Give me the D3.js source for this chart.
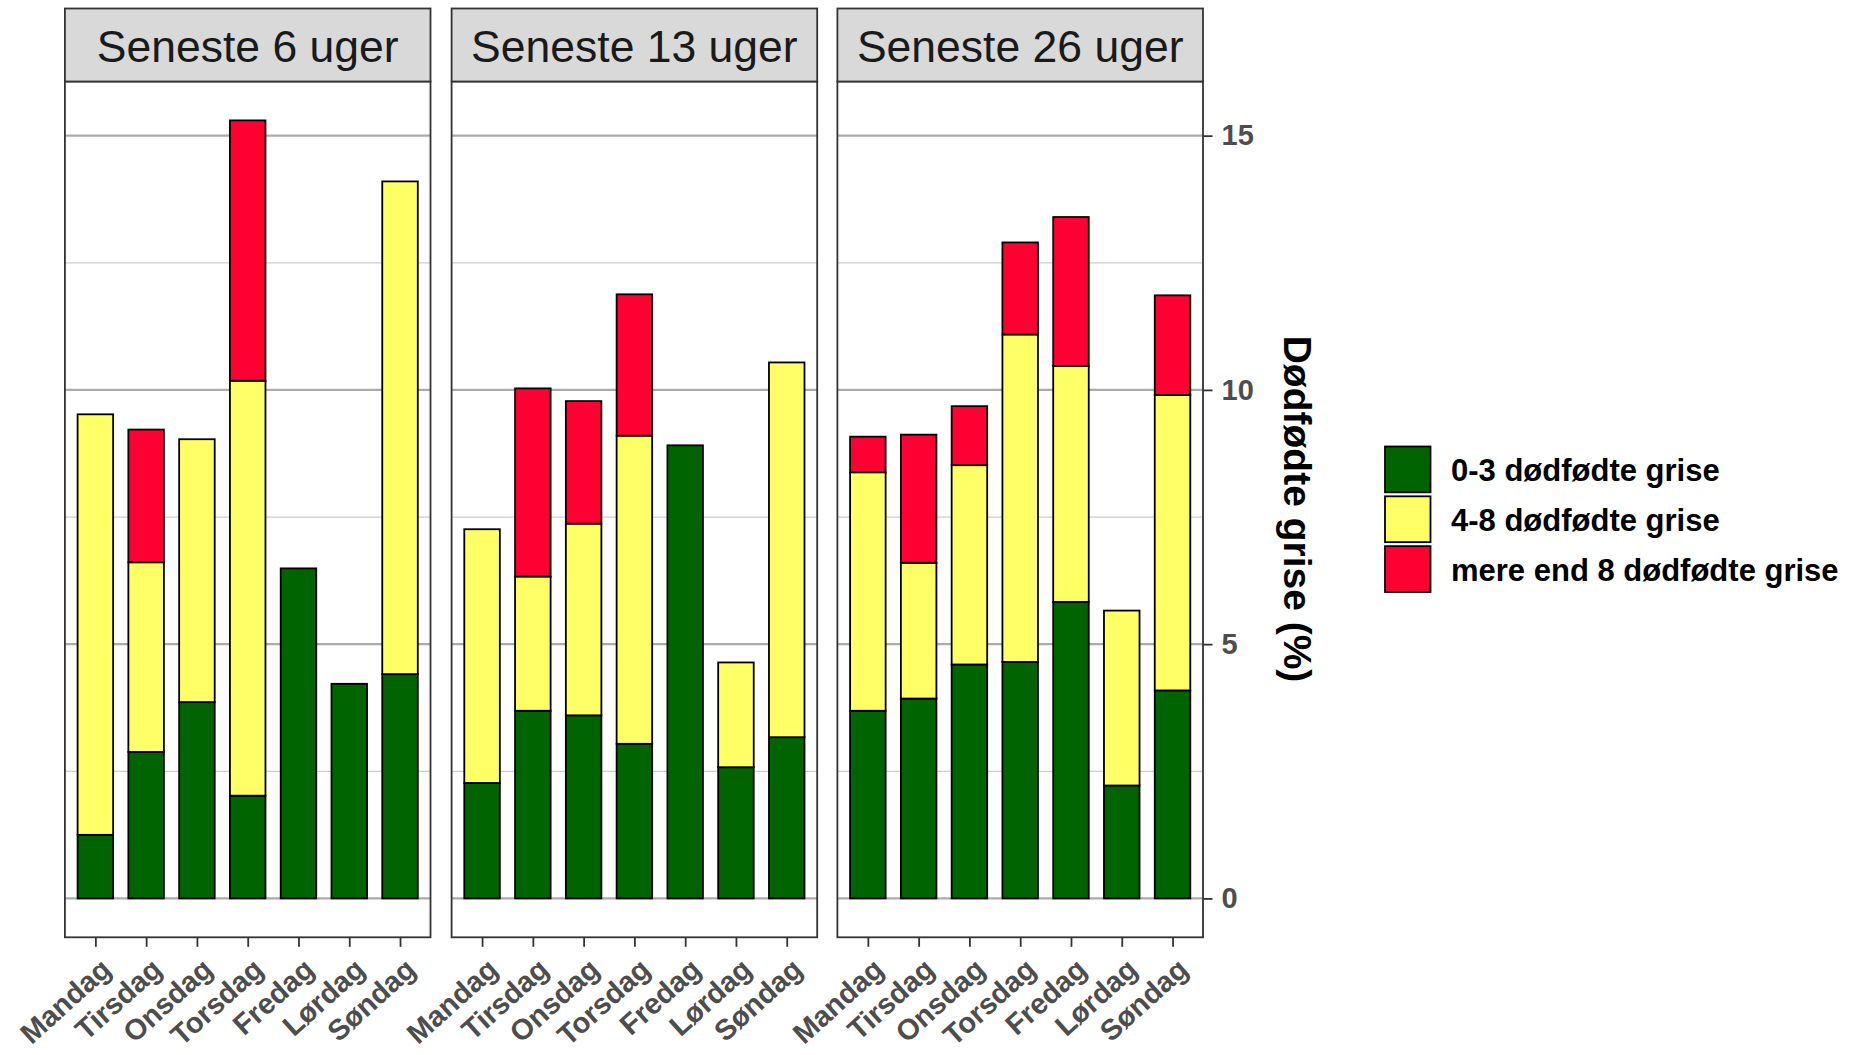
<!DOCTYPE html>
<html>
<head>
<meta charset="utf-8">
<script src="https://cdn.jsdelivr.net/npm/d3@7"></script>
<style>
  html, body { margin: 0; padding: 0; background: #ffffff; }
  svg { display: block; }
  text { font-family: "Liberation Sans", Arial, Helvetica, sans-serif; }
</style>
</head>
<body>
<svg id="chart" width="1849" height="1055"></svg>
<script>
// ---------- DATA ----------
const days = ["Mandag", "Tirsdag", "Onsdag", "Torsdag", "Fredag", "Lørdag", "Søndag"];
const panels = ["Seneste 6 uger", "Seneste 13 uger", "Seneste 26 uger"];
const seriesNames = ["0-3 dødfødte grise", "4-8 dødfødte grise", "mere end 8 dødfødte grise"];
const seriesColors = ["#006400", "#FFFF66", "#FF0033"];
const yTicks = [0, 5, 10, 15];
const yMinor = [2.5, 7.5, 12.5];

// Seneste 6 uger
const green6  = [1.25, 2.88, 3.86, 2.02, 6.49, 4.22, 4.41];
const yellow6 = [8.27, 3.73, 5.17, 8.16, 0.00, 0.00, 9.69];
const red6    = [0.00, 2.61, 0.00, 5.12, 0.00, 0.00, 0.00];
// Seneste 13 uger
const green13  = [2.27, 3.69, 3.60, 3.04, 8.91, 2.58, 3.17];
const yellow13 = [4.99, 2.64, 3.77, 6.06, 0.00, 2.06, 7.37];
const red13    = [0.00, 3.70, 2.41, 2.78, 0.00, 0.00, 0.00];
// Seneste 26 uger
const green26  = [3.69, 3.93, 4.60, 4.65, 5.83, 2.22, 4.09];
const yellow26 = [4.69, 2.67, 3.92, 6.44, 4.64, 3.44, 5.81];
const red26    = [0.70, 2.52, 1.16, 1.81, 2.93, 0.00, 1.96];

const panelValues = [
  [green6, yellow6, red6],
  [green13, yellow13, red13],
  [green26, yellow26, red26]
];

// ---------- LAYOUT ----------
const svg = d3.select("#chart");
const panelLefts = [64.9, 451.6, 837.4];
const panelW = 365.6;
const stripTop = 8.5, stripBottom = 81.5;
const plotTop = 81.5, plotBottom = 937.3;
const keys = ["g", "y", "r"];

// build tables
const tables = panelValues.map(vals => days.map((d, i) => ({ day: d, g: vals[0][i], y: vals[1][i], r: vals[2][i] })));
const maxTotal = d3.max(tables.flat(), d => d.g + d.y + d.r);
const expand = 0.05 * maxTotal;

const yScale = d3.scaleLinear()
  .domain([-expand, maxTotal + expand])
  .range([plotBottom, plotTop]);

const stack = d3.stack().keys(keys);

panels.forEach((title, p) => {
  const left = panelLefts[p];
  const x = d3.scalePoint().domain(days).range([left, left + panelW]).padding(0.6);
  const barW = x.step() * 0.7;
  const g = svg.append("g");

  // panel background
  g.append("rect").attr("x", left).attr("y", plotTop).attr("width", panelW)
    .attr("height", plotBottom - plotTop).attr("fill", "#ffffff");

  // minor grid
  g.selectAll(".minor").data(yMinor).join("line")
    .attr("x1", left).attr("x2", left + panelW)
    .attr("y1", d => yScale(d)).attr("y2", d => yScale(d))
    .attr("stroke", "#CFCFCF").attr("stroke-width", 1.3);
  // major grid
  g.selectAll(".major").data(yTicks).join("line")
    .attr("x1", left).attr("x2", left + panelW)
    .attr("y1", d => yScale(d)).attr("y2", d => yScale(d))
    .attr("stroke", "#ABABAB").attr("stroke-width", 2.2);

  // bars
  const stacked = stack(tables[p]);
  stacked.forEach((layer, li) => {
    g.append("g").selectAll("rect")
      .data(layer.filter(seg => seg[1] - seg[0] > 0))
      .join("rect")
      .attr("x", seg => x(seg.data.day) - barW / 2)
      .attr("width", barW)
      .attr("y", seg => yScale(seg[1]))
      .attr("height", seg => yScale(seg[0]) - yScale(seg[1]))
      .attr("fill", seriesColors[li])
      .attr("stroke", "#000000")
      .attr("stroke-width", 1.8);
  });

  // panel border
  g.append("rect").attr("x", left).attr("y", plotTop).attr("width", panelW)
    .attr("height", plotBottom - plotTop).attr("fill", "none")
    .attr("stroke", "#333333").attr("stroke-width", 1.8);

  // strip
  g.append("rect").attr("x", left).attr("y", stripTop).attr("width", panelW)
    .attr("height", stripBottom - stripTop).attr("fill", "#D9D9D9")
    .attr("stroke", "#333333").attr("stroke-width", 1.8);
  g.append("text").attr("x", left + panelW / 2).attr("y", (stripTop + stripBottom) / 2 + 1.5)
    .attr("text-anchor", "middle").attr("dominant-baseline", "central")
    .attr("font-size", 44.5).attr("fill", "#1A1A1A").text(title);

  // x axis
  const xAxis = d3.axisBottom(x).tickSize(9.5).tickPadding(0).tickFormat("");
  const ax = g.append("g").attr("transform", `translate(0,${plotBottom})`).call(xAxis);
  ax.select(".domain").remove();
  ax.selectAll(".tick line").attr("stroke", "#333333").attr("stroke-width", 1.8);
  ax.selectAll(".tick").append("text")
    .attr("transform", "translate(3,19) rotate(-42)")
    .attr("text-anchor", "end")
    .attr("dy", "0.72em")
    .attr("font-size", 29).attr("font-weight", "bold").attr("fill", "#4D4D4D")
    .text(d => d);
});

// y axis on right of last panel
const yAxisX = panelLefts[2] + panelW;
const yAxis = d3.axisRight(yScale).tickValues(yTicks).tickSize(9.5).tickPadding(9).tickFormat(d3.format("d"));
const yg = svg.append("g").attr("transform", `translate(${yAxisX},0)`).call(yAxis);
yg.select(".domain").remove();
yg.selectAll(".tick line").attr("stroke", "#333333").attr("stroke-width", 1.8);
yg.selectAll(".tick text").attr("font-size", 29).attr("font-weight", "bold")
  .attr("fill", "#4D4D4D").attr("font-family", "Liberation Sans, Arial, sans-serif");

// y axis title (rotated, reading top to bottom)
svg.append("text")
  .attr("transform", `translate(1297,${(yScale(0) + yScale(15)) / 2 - 8}) rotate(90)`)
  .attr("text-anchor", "middle").attr("dominant-baseline", "central")
  .attr("font-size", 39).attr("font-weight", "bold").attr("fill", "#000000")
  .text("Dødfødte grise (%)");

// legend
const legend = svg.append("g");
const legY = d3.scaleBand().domain(seriesNames).range([446.5, 592]).paddingInner(0.08);
seriesNames.forEach((name, i) => {
  legend.append("rect")
    .attr("x", 1385).attr("y", legY(name))
    .attr("width", 45.5).attr("height", legY.bandwidth())
    .attr("fill", seriesColors[i]).attr("stroke", "#000000").attr("stroke-width", 1.8);
  legend.append("text")
    .attr("x", 1451).attr("y", legY(name) + legY.bandwidth() / 2 + 1)
    .attr("dominant-baseline", "central")
    .attr("font-size", 31).attr("font-weight", "bold").attr("fill", "#000000")
    .text(name);
});
</script>
</body>
</html>
